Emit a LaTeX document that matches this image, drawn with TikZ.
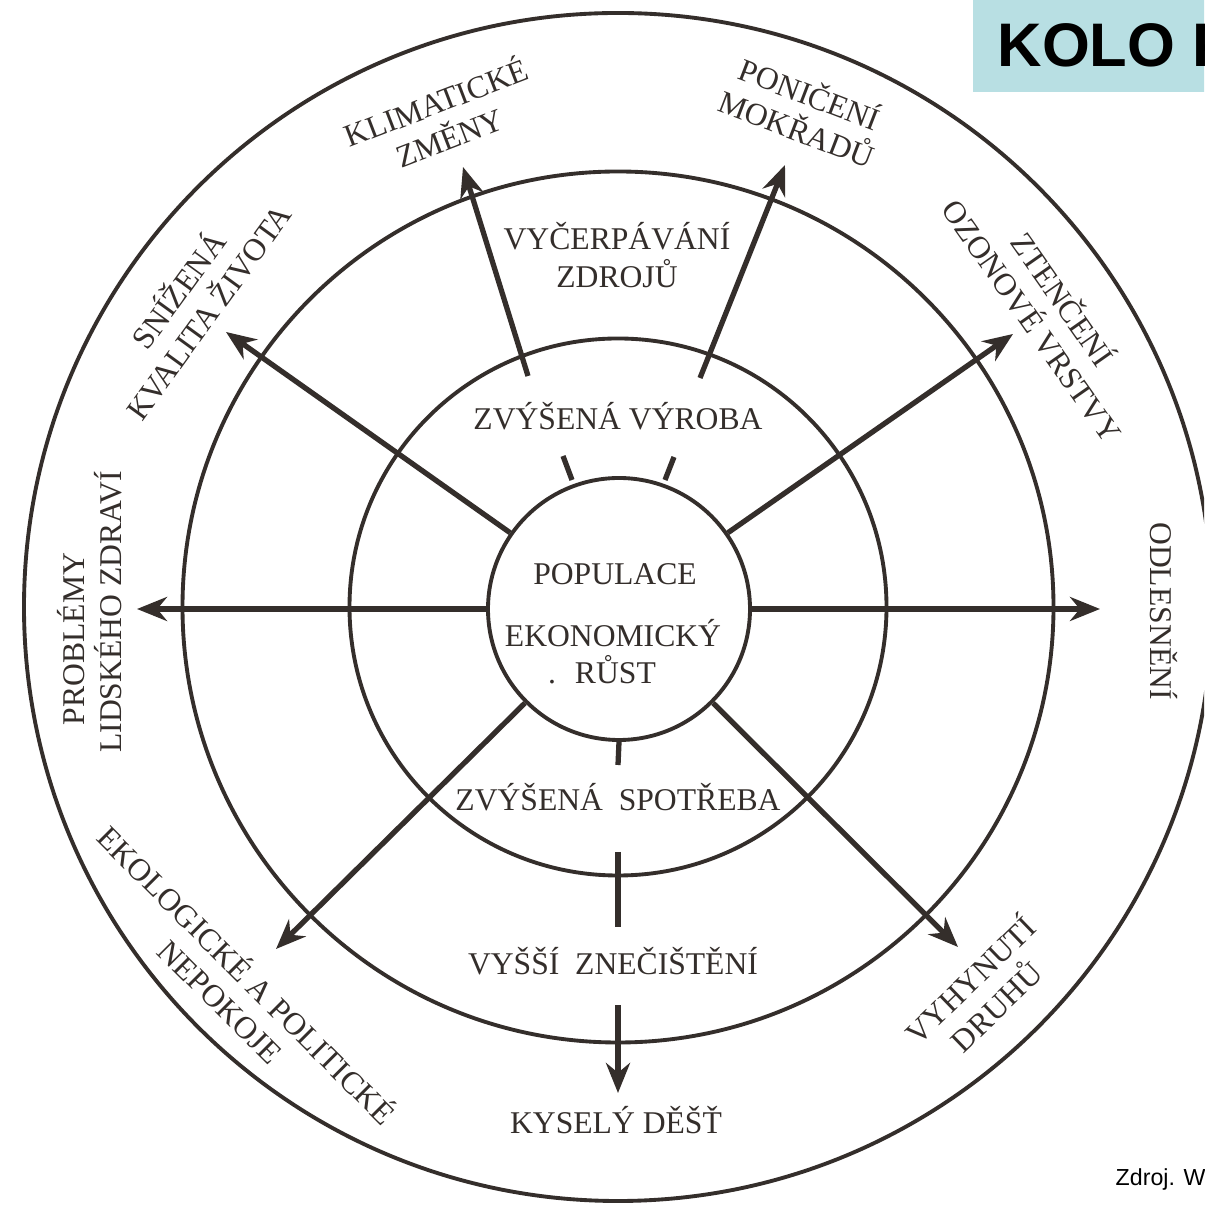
\documentclass[tikz,border=0pt]{standalone}
\usepackage{fontspec}
\setmainfont{Liberation Serif}
\newfontfamily\slidefont{Liberation Sans}
\usetikzlibrary{arrows.meta}

\definecolor{ink}{RGB}{52,46,43}
\definecolor{titlebg}{RGB}{184,223,227}

\begin{document}
\begin{tikzpicture}[
    ring/.style={draw=ink, line width=1.1pt},
    spoke/.style={draw=ink, line width=1.5pt, -{Stealth[length=3mm, width=2.4mm]}},
    stub/.style={draw=ink, line width=1.5pt},
    lbl/.style={text=ink, font=\fontsize{9}{10.6}\selectfont, inner sep=0pt, align=center}
]
    \clip (-6.18,-5.98) rectangle (5.86,6.07);
    \fill[white] (-6.18,-5.98) rectangle (5.86,6.07);

    % three rings and the core
    \draw[ring] (0,0) circle (5.94);
    \draw[ring] (0,0) circle (4.355);
    \draw[ring] (0,0) circle (2.685);
    \node[ring, circle, minimum size=2.62cm, inner sep=0pt] (core) at (0.01,-0.02) {};

    % ends of the spokes
    \coordinate (W)  at (-4.81,-0.02);
    \coordinate (E)  at (4.82,-0.02);
    \coordinate (NW) at (-3.92,2.75);
    \coordinate (NE) at (3.95,2.73);
    \coordinate (SW) at (-3.42,-3.42);
    \coordinate (SE) at (3.40,-3.40);

    % Draw a spoke from the core at angle #1 to the point #2
    \def\spoke#1#2{
        \draw[spoke] (core.#1) -- (#2);
    }

    \spoke{180}{W}
    \spoke{0}{E}
    \spoke{145}{NW}
    \spoke{35}{NE}
    \spoke{225}{SW}
    \spoke{315}{SE}

    % upper branch
    \coordinate (TL1) at (-0.46,1.27);
    \coordinate (TL2) at (-0.55,1.51);
    \coordinate (TR1) at (0.47,1.27);
    \coordinate (TR2) at (0.56,1.50);
    \draw[stub] (TL1) -- (TL2);
    \draw[stub] (TR1) -- (TR2);
    \coordinate (AL1) at (-0.90,2.31);
    \coordinate (AL2) at (-1.55,4.40);
    \coordinate (AR1) at (0.82,2.29);
    \coordinate (AR2) at (1.67,4.42);
    \draw[spoke] (AL1) -- (AL2);
    \draw[spoke] (AR1) -- (AR2);

    % lower branch
    \coordinate (B1) at (0,-1.58);
    \coordinate (B2) at (0,-2.45);
    \coordinate (B3) at (0,-3.20);
    \coordinate (B4) at (0,-3.98);
    \coordinate (B5) at (0,-4.86);
    \draw[stub] (core.south) -- (B1);
    \draw[stub] (B2) -- (B3);
    \draw[spoke] (B4) -- (B5);

    % texts inside
    \node[lbl, anchor=base] (pop) at (-0.03,0.22) {POPULACE};
    \node[lbl, anchor=base] (eko) at (-0.05,-0.40) {EKONOMICKÝ};
    \node[lbl, anchor=base] (rust) at (-0.16,-0.77) {.\hspace{0.6em}RŮST};
    \node[lbl, anchor=base] (vyroba) at (0,1.77) {ZVÝŠENÁ VÝROBA};
    \node[lbl] (zdroje) at (-0.01,3.52) {VYČERPÁVÁNÍ\\ZDROJŮ};
    \node[lbl, anchor=base] (spotreba) at (0,-2.04) {ZVÝŠENÁ\enspace SPOTŘEBA};
    \node[lbl, anchor=base] (znec) at (-0.05,-3.68) {VYŠŠÍ\enspace ZNEČIŠTĚNÍ};

    % texts in the outer ring
    \node[lbl, anchor=base] (dest) at (-0.02,-5.26) {KYSELÝ DĚŠŤ};
    \node[lbl, rotate=90] (zdravi) at (-5.28,-0.05) {PROBLÉMY\hspace*{1.7em}\\LIDSKÉHO ZDRAVÍ};
    \node[lbl, rotate=-90] (les) at (5.46,-0.04) {ODLESNĚNÍ};
    \node[lbl, rotate=54] (kvalita) at (-4.26,3.07) {SNÍŽENÁ\\KVALITA ŽIVOTA};
    \node[lbl, rotate=21] (klima) at (-1.76,4.89) {KLIMATICKÉ\\ZMĚNY};
    \node[lbl, rotate=-21] (mokrad) at (1.86,4.97) {PONIČENÍ\\MOKŘADŮ};
    \node[lbl, rotate=-55] (ozon) at (4.31,2.98) {ZTENČENÍ\\OZONOVÉ VRSTVY};
    \node[lbl, rotate=-45] (nepokoj) at (-3.83,-3.80) {EKOLOGICKÉ A POLITICKÉ\\NEPOKOJE};
    \node[lbl, rotate=44] (druhy) at (3.64,-3.85) {VYHYNUTÍ\\DRUHŮ};

    % slide title and source
    \fill[titlebg] (3.55,5.15) rectangle (5.9,6.1);
    \node[anchor=base west, inner sep=0pt, font=\slidefont\bfseries\fontsize{17.5}{20}\selectfont] (kolo) at (3.79,5.40) {KOLO P};
    \node[anchor=base west, inner sep=0pt, font=\slidefont\fontsize{6.6}{8}\selectfont] (zdroj) at (4.97,-5.78) {Zdroj. W};
\end{tikzpicture}
\end{document}
